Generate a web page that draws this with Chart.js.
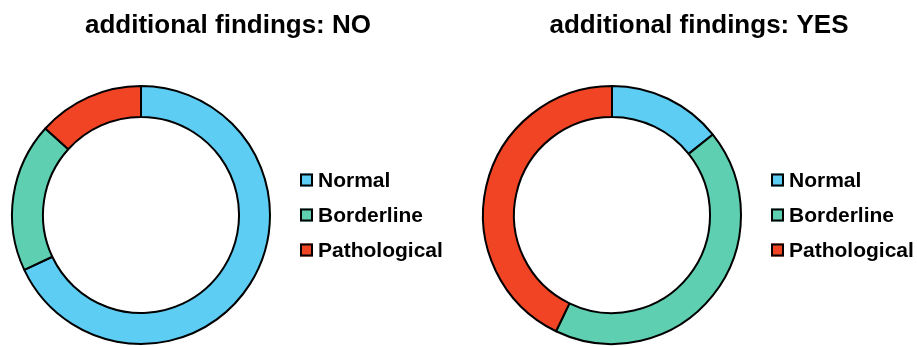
<!DOCTYPE html>
<html>
<head>
<meta charset="utf-8">
<script src="https://cdn.jsdelivr.net/npm/chart.js@4/dist/chart.umd.min.js"></script>
<style>
  html, body { margin: 0; padding: 0; background: #ffffff; overflow: hidden; }
  body { width: 917px; height: 346px; position: relative; }
  .panel { position: absolute; top: 0; width: 456px; height: 346px; }
  #panelNo { left: 0; }
  #panelYes { left: 471px; }
</style>
</head>
<body>
<div class="panel" id="panelNo"><canvas id="chartNo" width="456" height="346"></canvas></div>
<div class="panel" id="panelYes"><canvas id="chartYes" width="456" height="346"></canvas></div>
<script>
// Share of exam results (%) by category, split by presence of additional findings
const categories = ['Normal', 'Borderline', 'Pathological'];
const findingsNo = [68.0, 18.7, 13.3];
const findingsYes = [14.3, 42.9, 42.9];
const titles = ['additional findings: NO', 'additional findings: YES'];
const sliceColors = ['#5dcdf4', '#5ecfb1', '#f04424'];

const FONT = '"Liberation Sans", Arial, Helvetica, sans-serif';

// Panel heading centred over the whole canvas, plus a legend to the right of the ring
const panelDecor = {
  id: 'panelDecor',
  afterDraw(chart, args, opts) {
    const { ctx, chartArea, width } = chart;
    const ds = chart.data.datasets[0];
    ctx.save();

    ctx.font = 'bold 26px ' + FONT;
    ctx.fillStyle = '#000000';
    ctx.textAlign = 'center';
    ctx.textBaseline = 'middle';
    ctx.fillText(opts.heading, width / 2, 26);

    const cy = (chartArea.top + chartArea.bottom) / 2;
    const x = chartArea.right + 18;
    const step = 35;
    ctx.font = 'bold 21px ' + FONT;
    ctx.textAlign = 'left';
    chart.data.labels.forEach((label, i) => {
      const y = cy + (i - 1) * step;
      ctx.fillStyle = ds.backgroundColor[i];
      ctx.fillRect(x, y - 6.5, 13, 13);
      ctx.lineWidth = 2;
      ctx.strokeStyle = '#000000';
      ctx.strokeRect(x + 1, y - 5.5, 11, 11);
      ctx.fillStyle = '#000000';
      ctx.fillText(label, x + 18, y + 1);
    });
    ctx.restore();
  }
};

function makeRing(canvasId, heading, values) {
  return new Chart(document.getElementById(canvasId), {
    type: 'doughnut',
    data: {
      labels: categories,
      datasets: [{
        data: values,
        backgroundColor: sliceColors,
        borderColor: '#000000',
        borderWidth: 2
      }]
    },
    options: {
      responsive: false,
      devicePixelRatio: 1,
      animation: false,
      cutout: '76%',
      layout: { padding: { left: 0, right: 174, top: 85, bottom: 1 } },
      plugins: {
        legend: { display: false },
        tooltip: { enabled: false },
        title: { display: false },
        panelDecor: { heading: heading }
      }
    },
    plugins: [panelDecor]
  });
}

makeRing('chartNo', titles[0], findingsNo);
makeRing('chartYes', titles[1], findingsYes);
</script>
</body>
</html>
